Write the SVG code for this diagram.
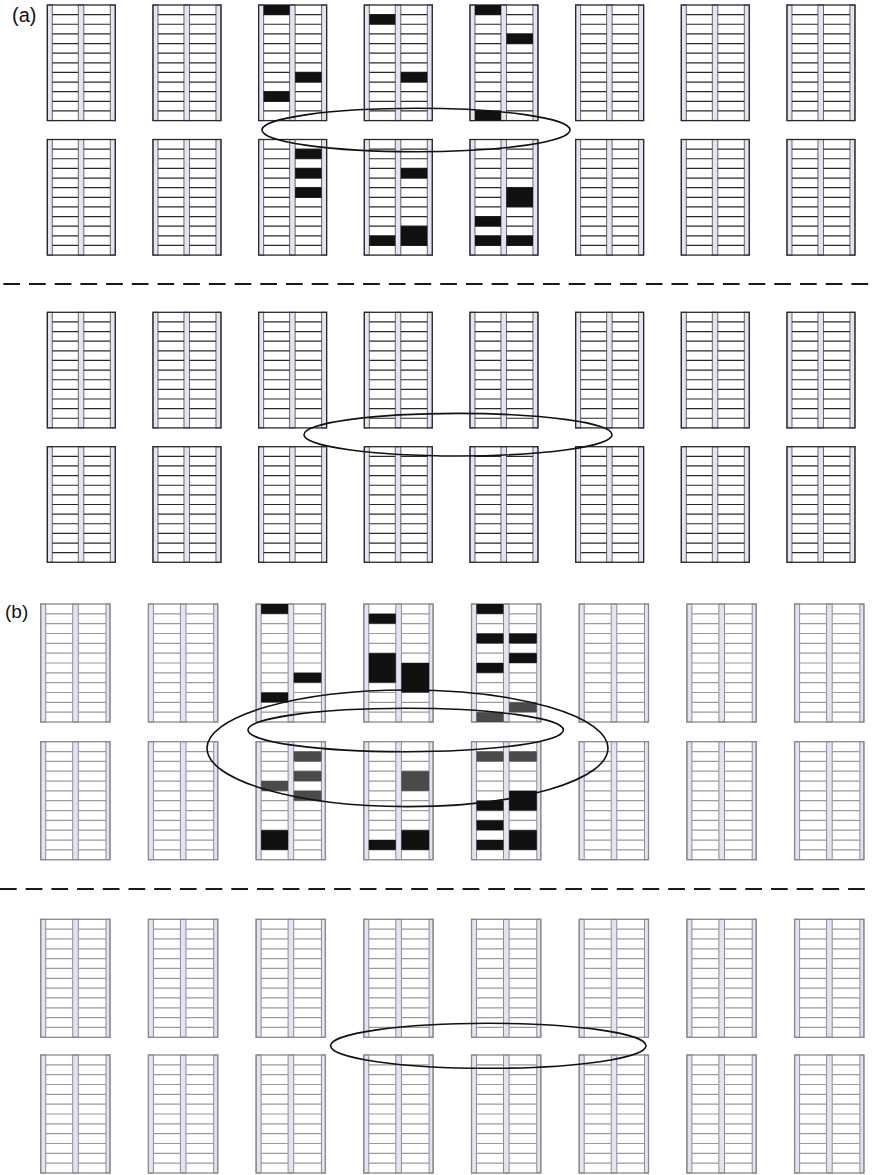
<svg xmlns="http://www.w3.org/2000/svg" xmlns:xlink="http://www.w3.org/1999/xlink" width="873" height="1175" viewBox="0 0 873 1175">
<style>
.postA{fill:#e7e3f7;stroke:#666;stroke-width:1}
.shelfA{fill:none;stroke:#2a2a2a;stroke-width:1.2}
.frameA{fill:none;stroke:#2a2a2a;stroke-width:1.3}
.postB{fill:#e5e2f3;stroke:#8a8a9a;stroke-width:1}
.shelfB{fill:none;stroke:#9a9a9a;stroke-width:1.2}
.frameB{fill:none;stroke:#8a8a8a;stroke-width:1.3}
.blk{fill:#111}
.gry{fill:#4a4a4a}
.lbl{font-family:"Liberation Sans",Arial,sans-serif;fill:#111}
.dash{stroke:#1a1a1a;stroke-width:2.2;stroke-dasharray:16.7 9;fill:none}
.ell{fill:none;stroke:#111;stroke-width:1.6}
</style>
<defs>
<g id="rackA">
<rect x="0" y="0" width="5" height="115.6" class="postA"/>
<rect x="31" y="0" width="5.5" height="115.6" class="postA"/>
<rect x="63" y="0" width="5" height="115.6" class="postA"/>
<path class="shelfA" d="M5 9.633H31M36.5 9.633H63M5 19.267H31M36.5 19.267H63M5 28.9H31M36.5 28.9H63M5 38.533H31M36.5 38.533H63M5 48.167H31M36.5 48.167H63M5 57.8H31M36.5 57.8H63M5 67.433H31M36.5 67.433H63M5 77.067H31M36.5 77.067H63M5 86.7H31M36.5 86.7H63M5 96.333H31M36.5 96.333H63M5 105.967H31M36.5 105.967H63"/>
<rect x="0" y="0" width="68" height="115.6" class="frameA"/>
</g>
<g id="rackB">
<rect x="0" y="0" width="5" height="118" class="postB"/>
<rect x="32" y="0" width="5.6" height="118" class="postB"/>
<rect x="65.3" y="0" width="4" height="118" class="postB"/>
<path class="shelfB" d="M5 9.833H32M37.6 9.833H65.3M5 19.667H32M37.6 19.667H65.3M5 29.5H32M37.6 29.5H65.3M5 39.333H32M37.6 39.333H65.3M5 49.167H32M37.6 49.167H65.3M5 59H32M37.6 59H65.3M5 68.833H32M37.6 68.833H65.3M5 78.667H32M37.6 78.667H65.3M5 88.5H32M37.6 88.5H65.3M5 98.333H32M37.6 98.333H65.3M5 108.167H32M37.6 108.167H65.3"/>
<rect x="0" y="0" width="69.3" height="118" class="frameB"/>
</g>
</defs>
<rect width="873" height="1175" fill="#fff"/>
<text class="lbl" x="12" y="22" font-size="20">(a)</text>
<text class="lbl" x="5" y="618" font-size="19">(b)</text>

<!-- Panel (a) upper -->
<g id="a-r1-c1"><use href="#rackA" x="47.3" y="5"/></g>
<g id="a-r1-c2"><use href="#rackA" x="152.97" y="5"/></g>
<g id="a-r1-c3"><use href="#rackA" x="258.63" y="5"/>
<rect class="blk" x="263.63" y="5" width="26" height="9.633"/>
<rect class="blk" x="263.63" y="91.7" width="26" height="9.633"/>
<rect class="blk" x="295.13" y="72.433" width="26.5" height="9.633"/></g>
<g id="a-r1-c4"><use href="#rackA" x="364.3" y="5"/>
<rect class="blk" x="369.3" y="14.633" width="26" height="9.633"/>
<rect class="blk" x="400.8" y="72.433" width="26.5" height="9.633"/></g>
<g id="a-r1-c5"><use href="#rackA" x="469.97" y="5"/>
<rect class="blk" x="474.97" y="5" width="26" height="9.633"/>
<rect class="blk" x="506.47" y="33.9" width="26.5" height="9.633"/>
<rect class="blk" x="474.97" y="110.967" width="26" height="9.633"/></g>
<g id="a-r1-c6"><use href="#rackA" x="575.63" y="5"/></g>
<g id="a-r1-c7"><use href="#rackA" x="681.3" y="5"/></g>
<g id="a-r1-c8"><use href="#rackA" x="786.97" y="5"/></g>

<g id="a-r2-c1"><use href="#rackA" x="47.3" y="139.5"/></g>
<g id="a-r2-c2"><use href="#rackA" x="152.97" y="139.5"/></g>
<g id="a-r2-c3"><use href="#rackA" x="258.63" y="139.5"/>
<rect class="blk" x="295.13" y="149.133" width="26.5" height="9.633"/>
<rect class="blk" x="295.13" y="168.4" width="26.5" height="9.633"/>
<rect class="blk" x="295.13" y="187.667" width="26.5" height="9.633"/></g>
<g id="a-r2-c4"><use href="#rackA" x="364.3" y="139.5"/>
<rect class="blk" x="400.8" y="168.4" width="26.5" height="9.633"/>
<rect class="blk" x="369.3" y="235.833" width="26" height="9.633"/>
<rect class="blk" x="400.8" y="226.2" width="26.5" height="19.267"/></g>
<g id="a-r2-c5"><use href="#rackA" x="469.97" y="139.5"/>
<rect class="blk" x="506.47" y="187.667" width="26.5" height="19.267"/>
<rect class="blk" x="474.97" y="216.567" width="26" height="9.633"/>
<rect class="blk" x="474.97" y="235.833" width="26" height="9.633"/>
<rect class="blk" x="506.47" y="235.833" width="26.5" height="9.633"/></g>
<g id="a-r2-c6"><use href="#rackA" x="575.63" y="139.5"/></g>
<g id="a-r2-c7"><use href="#rackA" x="681.3" y="139.5"/></g>
<g id="a-r2-c8"><use href="#rackA" x="786.97" y="139.5"/></g>

<!-- Panel (a) lower -->
<g id="a-r3-c1"><use href="#rackA" x="47.3" y="312.3"/></g>
<g id="a-r3-c2"><use href="#rackA" x="152.97" y="312.3"/></g>
<g id="a-r3-c3"><use href="#rackA" x="258.63" y="312.3"/></g>
<g id="a-r3-c4"><use href="#rackA" x="364.3" y="312.3"/></g>
<g id="a-r3-c5"><use href="#rackA" x="469.97" y="312.3"/></g>
<g id="a-r3-c6"><use href="#rackA" x="575.63" y="312.3"/></g>
<g id="a-r3-c7"><use href="#rackA" x="681.3" y="312.3"/></g>
<g id="a-r3-c8"><use href="#rackA" x="786.97" y="312.3"/></g>
<g id="a-r4-c1"><use href="#rackA" x="47.3" y="446.7"/></g>
<g id="a-r4-c2"><use href="#rackA" x="152.97" y="446.7"/></g>
<g id="a-r4-c3"><use href="#rackA" x="258.63" y="446.7"/></g>
<g id="a-r4-c4"><use href="#rackA" x="364.3" y="446.7"/></g>
<g id="a-r4-c5"><use href="#rackA" x="469.97" y="446.7"/></g>
<g id="a-r4-c6"><use href="#rackA" x="575.63" y="446.7"/></g>
<g id="a-r4-c7"><use href="#rackA" x="681.3" y="446.7"/></g>
<g id="a-r4-c8"><use href="#rackA" x="786.97" y="446.7"/></g>

<!-- Panel (b) upper -->
<g id="b-r1-c1"><use href="#rackB" x="40.7" y="604"/></g>
<g id="b-r1-c2"><use href="#rackB" x="148.4" y="604"/></g>
<g id="b-r1-c3"><use href="#rackB" x="256.1" y="604"/>
<rect class="blk" x="261.1" y="604" width="27" height="9.833"/>
<rect class="blk" x="293.7" y="672.833" width="27.7" height="9.833"/>
<rect class="blk" x="261.1" y="692.5" width="27" height="9.833"/></g>
<g id="b-r1-c4"><use href="#rackB" x="363.8" y="604"/>
<rect class="blk" x="368.8" y="613.833" width="27" height="9.833"/>
<rect class="blk" x="368.8" y="653.167" width="27" height="29.5"/>
<rect class="blk" x="401.4" y="663" width="27.7" height="29.5"/></g>
<g id="b-r1-c5"><use href="#rackB" x="471.5" y="604"/>
<rect class="blk" x="476.5" y="604" width="27" height="9.833"/>
<rect class="blk" x="476.5" y="633.5" width="27" height="9.833"/>
<rect class="blk" x="509.1" y="633.5" width="27.7" height="9.833"/>
<rect class="blk" x="509.1" y="653.167" width="27.7" height="9.833"/>
<rect class="blk" x="476.5" y="663" width="27" height="9.833"/>
<rect class="gry" x="509.1" y="702.333" width="27.7" height="9.833"/>
<rect class="gry" x="476.5" y="712.167" width="27" height="9.833"/></g>
<g id="b-r1-c6"><use href="#rackB" x="579.2" y="604"/></g>
<g id="b-r1-c7"><use href="#rackB" x="686.9" y="604"/></g>
<g id="b-r1-c8"><use href="#rackB" x="794.6" y="604"/></g>

<g id="b-r2-c1"><use href="#rackB" x="40.7" y="741.7"/></g>
<g id="b-r2-c2"><use href="#rackB" x="148.4" y="741.7"/></g>
<g id="b-r2-c3"><use href="#rackB" x="256.1" y="741.7"/>
<rect class="gry" x="293.7" y="751.533" width="27.7" height="9.833"/>
<rect class="gry" x="293.7" y="771.2" width="27.7" height="9.833"/>
<rect class="gry" x="261.1" y="781.033" width="27" height="9.833"/>
<rect class="gry" x="293.7" y="790.867" width="27.7" height="9.833"/>
<rect class="blk" x="261.1" y="830.2" width="27" height="19.667"/></g>
<g id="b-r2-c4"><use href="#rackB" x="363.8" y="741.7"/>
<rect class="gry" x="401.4" y="771.2" width="27.7" height="19.667"/>
<rect class="blk" x="368.8" y="840.033" width="27" height="9.833"/>
<rect class="blk" x="401.4" y="830.2" width="27.7" height="19.667"/></g>
<g id="b-r2-c5"><use href="#rackB" x="471.5" y="741.7"/>
<rect class="gry" x="476.5" y="751.533" width="27" height="9.833"/>
<rect class="gry" x="509.1" y="751.533" width="27.7" height="9.833"/>
<rect class="blk" x="509.1" y="790.867" width="27.7" height="19.667"/>
<rect class="blk" x="476.5" y="800.7" width="27" height="9.833"/>
<rect class="blk" x="476.5" y="820.367" width="27" height="9.833"/>
<rect class="blk" x="476.5" y="840.033" width="27" height="9.833"/>
<rect class="blk" x="509.1" y="830.2" width="27.7" height="19.667"/></g>
<g id="b-r2-c6"><use href="#rackB" x="579.2" y="741.7"/></g>
<g id="b-r2-c7"><use href="#rackB" x="686.9" y="741.7"/></g>
<g id="b-r2-c8"><use href="#rackB" x="794.6" y="741.7"/></g>

<!-- Panel (b) lower -->
<g id="b-r3-c1"><use href="#rackB" x="40.7" y="919.3"/></g>
<g id="b-r3-c2"><use href="#rackB" x="148.4" y="919.3"/></g>
<g id="b-r3-c3"><use href="#rackB" x="256.1" y="919.3"/></g>
<g id="b-r3-c4"><use href="#rackB" x="363.8" y="919.3"/></g>
<g id="b-r3-c5"><use href="#rackB" x="471.5" y="919.3"/></g>
<g id="b-r3-c6"><use href="#rackB" x="579.2" y="919.3"/></g>
<g id="b-r3-c7"><use href="#rackB" x="686.9" y="919.3"/></g>
<g id="b-r3-c8"><use href="#rackB" x="794.6" y="919.3"/></g>
<g id="b-r4-c1"><use href="#rackB" x="40.7" y="1055"/></g>
<g id="b-r4-c2"><use href="#rackB" x="148.4" y="1055"/></g>
<g id="b-r4-c3"><use href="#rackB" x="256.1" y="1055"/></g>
<g id="b-r4-c4"><use href="#rackB" x="363.8" y="1055"/></g>
<g id="b-r4-c5"><use href="#rackB" x="471.5" y="1055"/></g>
<g id="b-r4-c6"><use href="#rackB" x="579.2" y="1055"/></g>
<g id="b-r4-c7"><use href="#rackB" x="686.9" y="1055"/></g>
<g id="b-r4-c8"><use href="#rackB" x="794.6" y="1055"/></g>

<g id="connectors">
<line class="dash" x1="3.3" y1="284" x2="870" y2="284"/>
<line class="dash" x1="0" y1="889" x2="873" y2="889" stroke-dasharray="15 9" stroke="#2a2a2a" stroke-width="2.6"/>
<ellipse class="ell" cx="416" cy="130" rx="154" ry="21.7"/>
<ellipse class="ell" cx="458" cy="434.7" rx="154" ry="21.3"/>
<ellipse class="ell" cx="407.5" cy="748.3" rx="200.5" ry="58.3" stroke-width="2.2"/>
<ellipse class="ell" cx="405.7" cy="730" rx="157.7" ry="21.7" stroke="#444" stroke-width="1.6"/>
<ellipse class="ell" cx="488.3" cy="1045.8" rx="157.7" ry="22.5" stroke-width="2.2"/>
</g>
</svg>
